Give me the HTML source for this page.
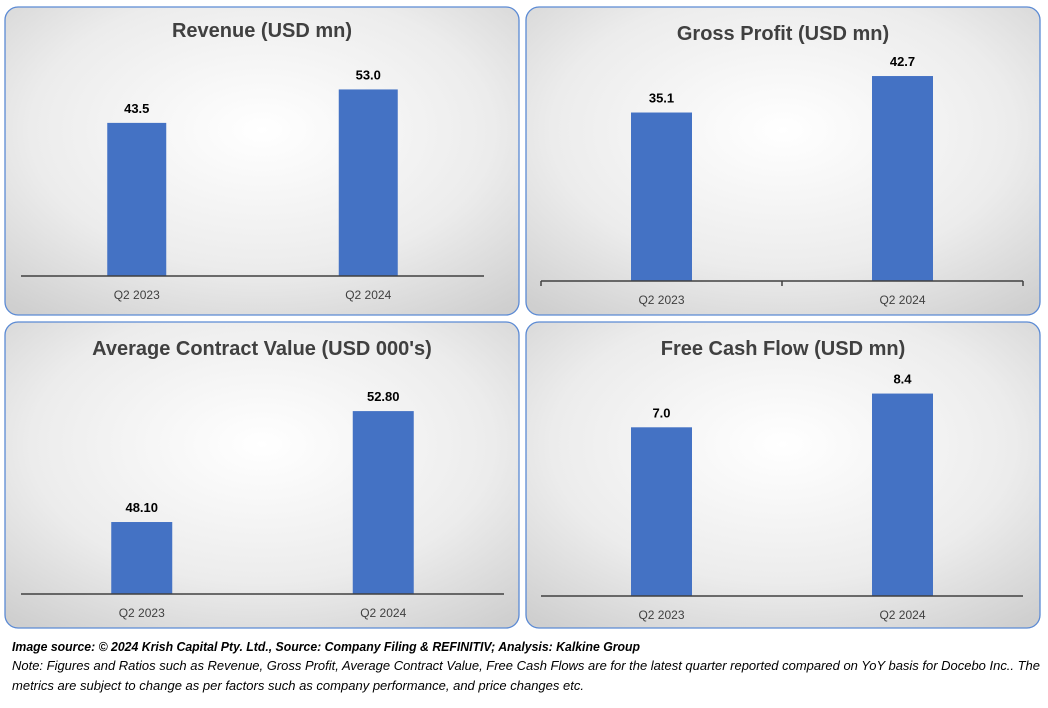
<!DOCTYPE html>
<html><head><meta charset="utf-8"><style>
body{margin:0;width:1048px;height:703px;background:#fff;overflow:hidden;font-family:"Liberation Sans",sans-serif}
</style></head><body>
<svg width="1048" height="703" xmlns="http://www.w3.org/2000/svg">
<defs>
<radialGradient id="bg" cx="50%" cy="40%" r="75%">
<stop offset="0" stop-color="#ffffff"/><stop offset="0.6" stop-color="#ececec"/><stop offset="1" stop-color="#cfcfcf"/>
</radialGradient>
</defs>
<g id="charts"></g>
<text x="12" y="651" font-size="12.5" font-weight="bold" font-style="italic" fill="#000" textLength="628" lengthAdjust="spacingAndGlyphs">Image source: © 2024 Krish Capital Pty. Ltd., Source: Company Filing &amp; REFINITIV; Analysis: Kalkine Group</text>
<text x="12" y="670" font-size="12.5" font-style="italic" fill="#000" textLength="1028" lengthAdjust="spacingAndGlyphs">Note: Figures and Ratios such as  Revenue, Gross Profit, Average Contract Value, Free Cash Flows are for the latest quarter reported compared on YoY basis for Docebo Inc.. The</text>
<text x="12" y="690" font-size="12.5" font-style="italic" fill="#000" textLength="572" lengthAdjust="spacingAndGlyphs">metrics are subject to change as per factors such as company performance, and price changes etc.</text>
</svg>
<script>
const categories=["Q2 2023","Q2 2024"];
const revenueValues=[43.5,53.0];
const revenueLabels=["43.5","53.0"];
const grossProfitValues=[35.1,42.7];
const grossProfitLabels=["35.1","42.7"];
const acvValues=[48.10,52.80];
const acvLabels=["48.10","52.80"];
const fcfValues=[7.0,8.4];
const fcfLabels=["7.0","8.4"];

const NS="http://www.w3.org/2000/svg";
const root=document.getElementById('charts');
function mk(tag,attrs,parent){const e=document.createElementNS(NS,tag);for(const k in attrs)e.setAttribute(k,attrs[k]);parent.appendChild(e);return e;}

function chart(cfg){
  const g=mk('g',{},root);
  
  
  const p=mk('rect',{x:cfg.px,y:cfg.py,width:cfg.pw,height:cfg.ph,rx:13,fill:'url(#bg)',stroke:'#5b8ad4','stroke-width':1.3},g);
  
  
  const t=mk('text',{x:cfg.px+cfg.pw/2,y:cfg.titleY,'text-anchor':'middle','font-size':20,'font-weight':'bold',fill:'#404040'},g);
  t.textContent=cfg.title;
  
  
  const scale=(v)=>cfg.axisY-(v-cfg.min)*cfg.ppu;
  const n=categories.length, step=(cfg.ax2-cfg.ax1)/n;
  categories.forEach((c,i)=>{
    const cx=cfg.ax1+step*(i+0.5);
    const top=scale(cfg.values[i]);
    const b=mk('rect',{x:cx-cfg.bw/2,y:top,width:cfg.bw,height:cfg.axisY-top,fill:'#4472c4'},g);
    
    
    const l=mk('text',{x:cx,y:top-10,'text-anchor':'middle','font-size':13,'font-weight':'bold',fill:'#000'},g);
    l.textContent=cfg.labels[i];
    
    
    const cl=mk('text',{x:cx,y:cfg.axisY+23,'text-anchor':'middle','font-size':12,fill:'#404040'},g);
    cl.textContent=c;
    
    
  });
  const ax=mk('line',{x1:cfg.ax1,x2:cfg.ax2,y1:cfg.axisY,y2:cfg.axisY,stroke:'#404040','stroke-width':1.5},g);
  
  
  if(cfg.ticks){
    for(let i=0;i<=n;i++){
      const tk=mk('line',{x1:cfg.ax1+step*i,x2:cfg.ax1+step*i,y1:cfg.axisY,y2:cfg.axisY+5,stroke:'#404040','stroke-width':1.5},g);
      
      
    }
  }
}
chart({name:'revenue-chart',title:'Revenue (USD mn)',px:5,py:7,pw:514,ph:308,titleY:37,axisY:276,ax1:21,ax2:484,bw:59,min:0,ppu:3.52,values:revenueValues,labels:revenueLabels});
chart({name:'gross-profit-chart',title:'Gross Profit (USD mn)',px:526,py:7,pw:514,ph:308,titleY:40,axisY:281,ax1:541,ax2:1023,bw:61,min:0,ppu:4.8,values:grossProfitValues,labels:grossProfitLabels,ticks:true});
chart({name:'acv-chart',title:"Average Contract Value (USD 000's)",px:5,py:322,pw:514,ph:306,titleY:355,axisY:594,ax1:21,ax2:504,bw:61,min:45.05,ppu:23.6,values:acvValues,labels:acvLabels});
chart({name:'fcf-chart',title:'Free Cash Flow (USD mn)',px:526,py:322,pw:514,ph:306,titleY:355,axisY:596,ax1:541,ax2:1023,bw:61,min:0,ppu:24.1,values:fcfValues,labels:fcfLabels});
</script>
</body></html>
